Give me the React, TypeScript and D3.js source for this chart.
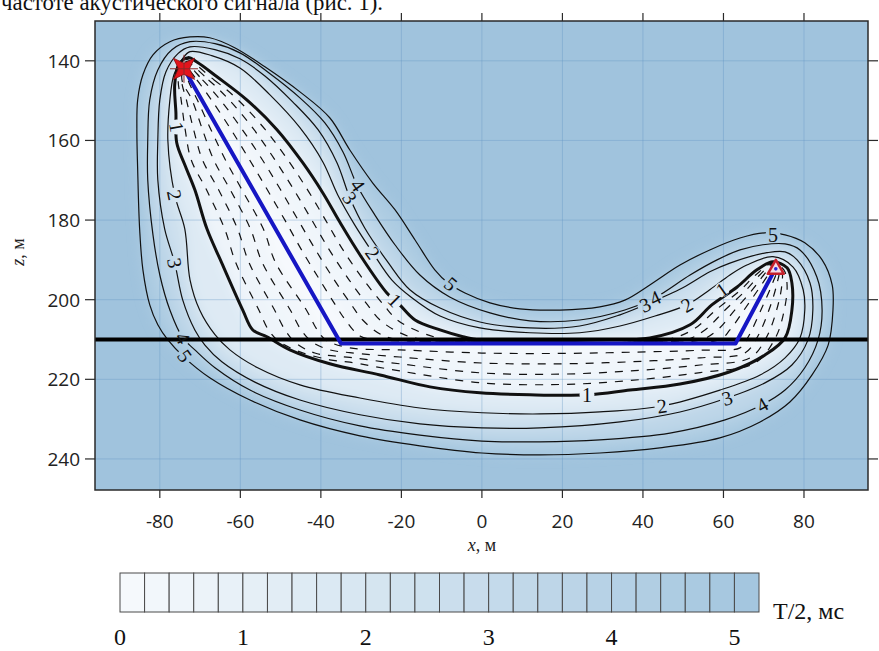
import React from "react";
import * as d3 from "d3";

// ---------- data ----------
const xTicks = [-80, -60, -40, -20, 0, 20, 40, 60, 80];
const zTicks = [140, 160, 180, 200, 220, 240];
const cbTicks = [0, 1, 2, 3, 4, 5];
const cbCells = [0, 0.2, 0.4, 0.6, 0.8, 1, 1.2, 1.4, 1.6, 1.8, 2, 2.2, 2.4, 2.6, 2.8, 3, 3.2, 3.4, 3.6, 3.8, 4, 4.2, 4.4, 4.6, 4.8, 5];
const cbStep = 0.2;
const reflectorZ = 210;
const source = [-74, 142];
const receiver = [73, 192];
const rayPath = [[-74, 142], [-35, 211], [63, 211], [73, 192]];

// contour levels (T/2, ms), [x m, z m]
const contour5 = [[-72.5,134.0],[-77.5,135.2],[-81.7,138.5],[-84.2,143.5],[-85.5,149.8],[-85.7,157.3],[-85.5,167.4],[-85.0,182.5],[-84.2,192.5],[-82.5,201.3],[-80.5,206.3],[-78.0,210.1],[-73.8,214.6],[-67.6,219.6],[-57.6,225.2],[-45.2,230.2],[-30.3,234.2],[-15.4,236.7],[0,238.5],[14.4,239.0],[29.3,238.5],[44.2,237.2],[59.1,234.7],[69.1,230.7],[76.5,225.7],[82.0,218.9],[86.0,211.4],[87.2,202.6],[87.0,196.3],[84.5,190.0],[80.2,185.7],[75.3,183.7],[70.3,183.2],[64.1,184.5],[56.6,187.5],[49.2,191.3],[41.7,196.3],[35.5,200.1],[29.3,201.8],[19.4,202.6],[9.4,202.3],[2.0,200.8],[-4.2,198.3],[-8.4,195.8],[-11.7,192.5],[-16.6,185.0],[-21.6,177.4],[-27.1,170.7],[-32.8,162.4],[-37.8,154.3],[-45.2,147.8],[-53.9,141.5],[-61.4,136.7],[-67.6,134.2]];
const contour4 = [[-72.5,135.2],[-66.3,135.7],[-60.1,138.0],[-53.2,142.8],[-45.2,149.3],[-39.0,155.6],[-34.5,162.9],[-30.8,171.7],[-26.6,178.7],[-21.6,186.2],[-15.4,193.8],[-8.0,199.3],[2.0,203.3],[11.9,205.3],[24.3,205.1],[35.5,202.6],[43.0,199.5],[51.7,193.8],[58.4,190.0],[64.1,187.5],[69.8,186.2],[75.3,186.0],[79.0,187.5],[83.2,194.3],[84.5,202.6],[83.5,210.1],[80.2,217.1],[75.3,222.7],[69.6,226.4],[60.4,230.2],[46.7,233.5],[29.3,235.2],[14.4,235.7],[0,235.5],[-15.4,234.0],[-30.3,231.7],[-45.2,227.7],[-57.6,222.7],[-66.3,217.1],[-71.3,212.6],[-74.3,209.6],[-77.5,202.6],[-80.0,193.8],[-81.7,183.7],[-83.0,169.9],[-83.0,160.1],[-82.5,149.8],[-80.5,142.3],[-77.0,137.2]];
const contour3 = [[-72.5,136.5],[-66.3,137.2],[-60.1,139.5],[-53.9,143.8],[-47.0,150.3],[-40.7,157.3],[-36.0,165.6],[-32.8,174.4],[-29.1,182.0],[-23.4,190.5],[-17.9,197.5],[-10.4,202.1],[-0.5,205.6],[11.9,207.1],[24.3,206.6],[34.3,203.8],[40.5,201.3],[49.9,197.0],[56.6,193.0],[61.6,190.8],[70.8,188.2],[75.3,188.0],[78.3,190.0],[81.5,195.8],[82.2,202.6],[81.0,210.1],[77.0,216.4],[70.3,220.9],[60.9,224.7],[49.2,228.2],[34.3,230.7],[14.4,232.2],[0,232.2],[-15.4,231.2],[-30.3,228.9],[-45.2,225.2],[-56.4,220.7],[-64.6,215.6],[-68.8,211.4],[-71.3,207.6],[-74.3,200.1],[-76.3,190.8],[-78.8,182.2],[-80.5,169.9],[-80.5,160.1],[-80.0,149.8],[-78.5,142.8],[-75.5,138.2]];
const contour2 = [[-72.5,137.7],[-67.1,138.7],[-60.1,141.8],[-52.7,148.5],[-45.2,156.8],[-39.5,165.4],[-35.8,173.7],[-31.6,181.2],[-27.1,188.2],[-22.4,195.0],[-17.4,199.5],[-10.4,204.1],[-0.5,207.1],[11.9,208.3],[24.3,208.3],[34.3,206.6],[43.0,204.1],[50.9,201.3],[56.6,197.5],[61.6,193.8],[65.8,191.3],[72.3,189.2],[77.3,191.8],[79.8,197.5],[80.2,202.6],[79.0,209.6],[75.3,214.6],[69.1,218.9],[59.1,222.7],[44.7,226.7],[29.3,228.2],[14.4,228.7],[0,228.4],[-15.4,227.2],[-30.3,224.7],[-45.2,221.4],[-55.7,217.1],[-62.6,212.6],[-66.3,208.8],[-70.1,202.6],[-72.5,195.0],[-73.8,182.2],[-76.3,173.7],[-78.0,160.1],[-77.5,149.8],[-76.5,143.5],[-74.5,139.7]];
const contour1 = [[-73.0,139.2],[-70.8,140.3],[-65.8,144.0],[-58.4,149.8],[-50.9,157.3],[-44.5,165.6],[-39.5,173.2],[-35.3,180.5],[-30.3,188.7],[-23.6,198.3],[-20.4,201.3],[-16.6,205.1],[-10.4,207.6],[-4.7,209.3],[-0.5,210.1],[29.3,210.1],[41.7,209.6],[51.7,206.3],[57.1,201.3],[63.4,196.8],[68.3,192.5],[72.3,190.5],[75.8,192.0],[77.0,195.8],[77.0,202.6],[75.3,209.6],[70.3,213.9],[61.6,218.1],[49.2,221.2],[36.8,222.7],[26.1,223.9],[11.9,223.9],[-0.5,223.4],[-12.9,221.9],[-25.3,218.9],[-37.8,216.1],[-47.7,212.6],[-53.4,209.3],[-56.9,207.6],[-59.4,202.6],[-64.6,190.8],[-68.3,182.2],[-71.3,172.4],[-73.8,166.1],[-75.8,160.6],[-76.0,153.1],[-76.3,146.0],[-75.3,141.0]];

// dashed sub-levels inside level 1
const dashed02 = [[-73.8,141.1],[-70.8,144.8],[-67.2,149.8],[-62.3,157.3],[-57.7,164.9],[-53.3,172.4],[-49.0,179.9],[-44.8,187.5],[-40.3,195.0],[-36.4,201.3],[-33.9,205.1],[-30.3,209.1],[-25.3,210.1],[29.3,210.1],[58.9,210.1],[61.6,207.6],[65.1,202.6],[68.6,197.5],[71.1,193.8],[72.8,191.5],[73.3,192.5],[72.0,196.3],[69.3,202.6],[66.0,209.6],[64.1,212.1],[54.2,212.7],[36.8,213.2],[19.4,213.5],[0,213.4],[-20.4,212.6],[-32.8,212.1],[-38.8,210.1],[-40.9,207.6],[-43.6,202.6],[-51.2,190.8],[-54.3,182.2],[-59.6,172.4],[-63.7,164.9],[-67.3,157.3],[-70.7,149.8],[-73.0,144.8]];
const dashed04 = [[-73.8,140.6],[-69.4,144.8],[-65.0,149.8],[-59.5,157.3],[-54.5,164.9],[-50.0,172.4],[-45.7,179.9],[-41.3,187.5],[-36.7,195.0],[-32.4,201.3],[-29.6,205.1],[-25.3,208.6],[-20.4,210.1],[29.3,210.1],[54.2,210.1],[58.5,207.6],[62.8,202.6],[67.2,197.5],[70.0,193.8],[72.5,191.0],[73.8,192.5],[73.2,196.3],[71.3,202.6],[68.3,209.6],[65.3,213.4],[54.2,214.6],[36.8,215.6],[19.4,216.1],[0,215.9],[-20.4,214.4],[-32.8,213.3],[-37.8,212.6],[-42.2,210.6],[-44.9,207.6],[-47.6,202.6],[-54.5,190.8],[-57.5,182.2],[-62.5,172.4],[-66.6,164.9],[-69.4,157.3],[-72.0,149.8],[-74.5,144.8]];
const dashed06 = [[-73.8,140.2],[-67.9,144.8],[-62.8,149.8],[-56.6,157.3],[-51.4,164.9],[-46.7,172.4],[-42.3,179.9],[-37.9,187.5],[-33.0,195.0],[-28.4,201.3],[-25.3,205.1],[-20.4,208.3],[-14.2,210.1],[29.3,210.1],[50.4,210.1],[55.4,207.6],[60.4,202.6],[65.7,197.5],[69.0,193.8],[72.4,190.9],[74.4,192.5],[74.5,196.3],[73.2,202.6],[70.6,209.6],[66.6,214.6],[54.2,216.4],[36.8,217.9],[19.4,218.7],[0,218.4],[-20.4,216.1],[-32.8,214.5],[-41.5,213.4],[-46.2,210.9],[-48.9,207.6],[-51.5,202.6],[-57.8,190.8],[-60.7,182.2],[-65.4,172.4],[-69.4,164.9],[-71.6,157.3],[-73.4,149.8],[-74.6,144.8]];
const dashed08 = [[-73.8,139.7],[-66.5,144.8],[-60.6,149.8],[-53.8,157.3],[-48.2,164.9],[-43.3,172.4],[-38.9,179.9],[-34.5,187.5],[-29.4,195.0],[-24.4,201.3],[-21.0,205.1],[-15.4,208.1],[-8.0,210.1],[29.3,210.1],[45.5,210.1],[52.3,207.6],[58.1,202.6],[64.3,197.5],[68.0,193.8],[72.3,190.8],[75.0,192.5],[75.8,196.3],[75.1,202.6],[72.9,209.6],[67.8,215.9],[54.2,218.3],[36.8,220.3],[19.4,221.3],[0,220.9],[-20.4,217.9],[-32.8,215.7],[-37.8,215.1],[-45.2,213.1],[-50.2,210.6],[-53.0,207.6],[-55.4,202.6],[-61.1,190.8],[-63.9,182.2],[-68.4,172.4],[-72.2,164.9],[-73.7,157.3],[-74.7,149.8],[-75.4,144.8]];

const contourLevels = [
  { level: 5, pts: contour5 },
  { level: 4, pts: contour4 },
  { level: 3, pts: contour3 },
  { level: 2, pts: contour2 },
  { level: 1, pts: contour1 },
];
const dashedLevels = [
  { level: 0.2, pts: dashed02 },
  { level: 0.4, pts: dashed04 },
  { level: 0.6, pts: dashed06 },
  { level: 0.8, pts: dashed08 },
];

// contour labels: [x, z, text, rotation]
const contourLabels: [number, number, string, number][] = [
  [-75.8, 156.6, "1", 80], [-76.3, 173.7, "2", 78], [-76.3, 190.8, "3", 80],
  [-74.3, 209.6, "4", 60], [-73.8, 214.1, "5", 55],
  [-30.8, 171.2, "4", 55], [-32.8, 174.4, "3", 55], [-27.1, 188.2, "2", 55],
  [-21.6, 200.1, "1", 45], [-7.7, 196.0, "5", 40],
  [40.5, 201.3, "3", -25], [43.0, 199.5, "4", -25], [50.9, 201.3, "2", -30],
  [59.6, 197.5, "1", -35], [72.3, 183.7, "5", 0],
  [26.1, 223.9, "1", 0], [44.7, 226.7, "2", -8], [60.9, 224.7, "3", -18], [69.6, 226.4, "4", -30],
];

export default function App() {
  const W = 879, H = 651;
  const left = 95, right = 868, top = 21, bottom = 490;
  const xs = d3.scaleLinear().domain([-96.1, 95.9]).range([left, right]);
  const zs = d3.scaleLinear().domain([130, 247.8]).range([top, bottom]);
  const color = d3.scaleLinear<string>().domain([0, 5.2]).range(["#f7fafd", "#a2c5de"]);
  const cbX = d3.scaleLinear().domain([0, 5.2]).range([120, 759]);

  const closed = d3.line<number[]>().x(d => xs(d[0])).y(d => zs(d[1])).curve(d3.curveCatmullRomClosed.alpha(0.5));
  const poly = d3.line<number[]>().x(d => xs(d[0])).y(d => zs(d[1]));

  const serif = "'Liberation Serif', 'Times New Roman', serif";
  const sans = "'Open Sans', 'Noto Sans', sans-serif";

  const sx = xs(source[0]), sy = zs(source[1]);
  const rx = xs(receiver[0]), ry = zs(receiver[1]);
  const starPts: [number, number][] = [];
  for (let i = 0; i < 8; i++) {
    const a = (Math.PI / 4) * i + Math.PI / 4;
    const r = i % 2 === 0 ? 15 : 5.5;
    starPts.push([sx + r * Math.cos(a), sy + r * Math.sin(a)]);
  }

  return (
    <svg width={W} height={H} style={{ display: "block", position: "absolute", left: 0, top: 0 }}>
      <defs>
        <clipPath id="plotClip"><rect x={left} y={top} width={right - left} height={bottom - top} /></clipPath>
        <filter id="soft" x="-20%" y="-20%" width="140%" height="140%">
          <feGaussianBlur stdDeviation="6" />
        </filter>
        <mask id="labelMask" maskUnits="userSpaceOnUse" x="0" y="0" width={W} height={H}>
          <rect x="0" y="0" width={W} height={H} fill="white" />
          {contourLabels.map((l, i) => (
            <circle key={i} cx={xs(l[0])} cy={zs(l[1])} r={7.5} fill="black" />
          ))}
        </mask>
      </defs>
      <rect x={0} y={0} width={W} height={H} fill="white" />
      <text x={1} y={10} textLength={382} lengthAdjust="spacingAndGlyphs" fontFamily={serif} fontSize={24} fill="#111">частоте акустического сигнала (рис. 1).</text>

      <g clipPath="url(#plotClip)">
        <rect x={left} y={top} width={right - left} height={bottom - top} fill={color(5.35)} />
        <g filter="url(#soft)">
          {contourLevels.map(c => (
            <path key={c.level} d={closed(c.pts) || ""} fill={color(c.level - 0.45)} />
          ))}
          <path d={closed(dashed06) || ""} fill={color(0.35)} />
          <path d={closed(dashed02) || ""} fill={color(0.08)} />
        </g>
        {xTicks.map(t => (
          <line key={"gx" + t} x1={xs(t)} x2={xs(t)} y1={top} y2={bottom} stroke="#5f93c4" strokeOpacity={0.35} strokeWidth={1} />
        ))}
        {zTicks.map(t => (
          <line key={"gz" + t} x1={left} x2={right} y1={zs(t)} y2={zs(t)} stroke="#5f93c4" strokeOpacity={0.35} strokeWidth={1} />
        ))}
        <g mask="url(#labelMask)">
          {dashedLevels.map(c => (
            <path key={c.level} d={closed(c.pts) || ""} fill="none" stroke="#111" strokeWidth={1.2} strokeDasharray="8 8" />
          ))}
          {contourLevels.map(c => (
            <path key={c.level} d={closed(c.pts) || ""} fill="none" stroke="#111" strokeWidth={c.level === 1 ? 3 : 1.2} />
          ))}
        </g>
        <line x1={left} x2={right} y1={zs(reflectorZ)} y2={zs(reflectorZ)} stroke="#000" strokeWidth={4} />
        <path d={poly(rayPath as number[][]) || ""} fill="none" stroke="#1616c4" strokeWidth={4} strokeLinejoin="round" />
        {contourLabels.map((l, i) => (
          <text key={i} transform={`translate(${xs(l[0])},${zs(l[1])}) rotate(${l[3]})`} textAnchor="middle" dominantBaseline="central" fontFamily={serif} fontSize={20} fill="#111">{l[2]}</text>
        ))}
        <polygon points={starPts.map(p => p.join(",")).join(" ")} fill="#e3141c" stroke="#8a0f12" strokeWidth={0.8} />
        <line x1={sx - 14} x2={sx + 14} y1={sy} y2={sy} stroke="#8a2a2a" strokeWidth={1} />
        <line x1={sx} x2={sx} y1={sy - 14} y2={sy + 14} stroke="#8a2a2a" strokeWidth={1} />
        <polygon points={`${rx},${ry - 8} ${rx - 8},${ry + 6} ${rx + 8},${ry + 6}`} fill="#f2dbe6" stroke="#c4202a" strokeWidth={2.5} strokeLinejoin="round" />
        <circle cx={rx} cy={ry + 1} r={1.8} fill="#2a2ad0" />
      </g>

      <rect x={left} y={top} width={right - left} height={bottom - top} fill="none" stroke="#2a2a2a" strokeWidth={1.5} />
      {xTicks.map(t => (
        <g key={"tx" + t}>
          <line x1={xs(t)} x2={xs(t)} y1={bottom} y2={bottom + 8} stroke="#2a2a2a" strokeWidth={1.2} />
          <line x1={xs(t)} x2={xs(t)} y1={top} y2={top - 8} stroke="#2a2a2a" strokeWidth={1.2} />
          <text x={xs(t)} y={528} textAnchor="middle" fontFamily={sans} fontSize={19} fill="#222">{t}</text>
        </g>
      ))}
      {zTicks.map(t => (
        <g key={"tz" + t}>
          <line x1={left} x2={left - 10} y1={zs(t)} y2={zs(t)} stroke="#2a2a2a" strokeWidth={1.2} />
          <line x1={right} x2={right + 10} y1={zs(t)} y2={zs(t)} stroke="#2a2a2a" strokeWidth={1.2} />
          <text x={80} y={zs(t) + 7} textAnchor="end" fontFamily={sans} fontSize={19} fill="#222">{t}</text>
        </g>
      ))}
      <text x={482} y={551} textAnchor="middle" fontFamily={serif} fontSize={18} fill="#222"><tspan fontStyle="italic">x</tspan>, м</text>
      <text transform={`translate(24,252) rotate(-90)`} textAnchor="middle" fontFamily={serif} fontSize={18} fill="#222"><tspan fontStyle="italic">z</tspan>, м</text>

      {cbCells.map(v => (
        <rect key={"cb" + v} x={cbX(v)} y={573} width={cbX(v + cbStep) - cbX(v)} height={39} fill={color(v + cbStep / 2)} stroke="#4a4a4a" strokeWidth={1} />
      ))}
      {cbTicks.map(t => (
        <text key={"cbt" + t} x={cbX(t)} y={645} textAnchor="middle" fontFamily={serif} fontSize={24} fill="#111">{t}</text>
      ))}
      <text x={773} y={619} fontFamily={serif} fontSize={24} fill="#111">T/2, мс</text>
    </svg>
  );
}
